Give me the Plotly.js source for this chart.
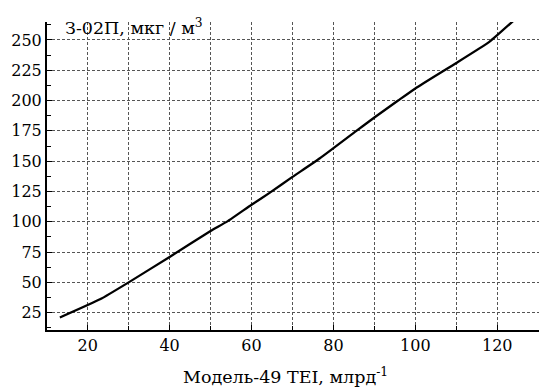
<!DOCTYPE html>
<html>
<head>
<meta charset="utf-8">
<script src="https://cdn.plot.ly/plotly-3.0.1.min.js"></script>
<style>html,body{margin:0;padding:0;background:#fff}#chart{width:541px;height:387px}</style>
</head>
<body>
<div id="chart"></div>
<script>
const xValues = [13.2, 23, 30, 40, 50, 54.2, 60, 64.5, 70, 76.7, 85.6, 90, 95.8, 100, 110, 117.9, 120, 124.7];
const yValues = [21, 36, 50, 71, 92.3, 100.5, 114, 124, 137, 152.4, 175, 186, 200, 210, 231, 248, 254, 268];
const yTitle = 'З-02П, мкг / м<sup>3</sup>';
const xTitle = 'Модель-49 TEI, млрд<sup>-1</sup>';

const fontFam = 'DejaVu Serif';
const tickSize = 16;
const titleSize = 17.5;
const gridCol = '#555';

const trace = {
  x: xValues, y: yValues, type: 'scatter', mode: 'lines',
  line: {color: '#000', width: 2.3, shape: 'spline', smoothing: 0.4},
  cliponaxis: false, hoverinfo: 'none'
};

const layout = {
  width: 541, height: 387,
  margin: {l: 47, r: 2, t: 22, b: 57},
  paper_bgcolor: '#fff', plot_bgcolor: '#fff',
  showlegend: false,
  font: {family: fontFam, size: tickSize, color: '#000'},
  xaxis: {
    range: [10.06, 130.2], dtick: 20, tick0: 0,
    ticks: 'inside', ticklen: 5, tickwidth: 1, tickcolor: '#000',
    showline: true, linewidth: 2, linecolor: '#000',
    showgrid: true, gridcolor: gridCol, gridwidth: 1, griddash: '3px,2px',
    zeroline: false,
    tickfont: {family: fontFam, size: tickSize, color: '#000'},
    minor: {dtick: 10, tick0: 0, ticks: 'inside', ticklen: 4, tickcolor: '#000',
            showgrid: true, gridcolor: gridCol, gridwidth: 1, griddash: '3px,2px'}
  },
  yaxis: {
    range: [10.7, 264.8], dtick: 25, tick0: 0,
    ticks: 'inside', ticklen: 5, tickwidth: 1, tickcolor: '#000',
    showline: true, linewidth: 2, linecolor: '#000',
    showgrid: true, gridcolor: gridCol, gridwidth: 1, griddash: '3px,2px',
    zeroline: false,
    tickfont: {family: fontFam, size: tickSize, color: '#000'},
    minor: {dtick: 12.5, tick0: 0, ticks: 'inside', ticklen: 4, tickcolor: '#000', showgrid: false}
  },
  annotations: [
    {text: yTitle, xref: 'paper', yref: 'paper', x: 0.0325, y: 1 + 8/308,
     xanchor: 'left', yanchor: 'top', showarrow: false,
     font: {family: fontFam, size: titleSize, color: '#000'}},
    {text: xTitle, xref: 'paper', yref: 'paper', x: 0.484, y: -46/308,
     xanchor: 'center', yanchor: 'middle', showarrow: false,
     font: {family: fontFam, size: titleSize, color: '#000'}}
  ]
};

Plotly.newPlot('chart', [trace], layout, {displayModeBar: false, staticPlot: true});
</script>
</body>
</html>
